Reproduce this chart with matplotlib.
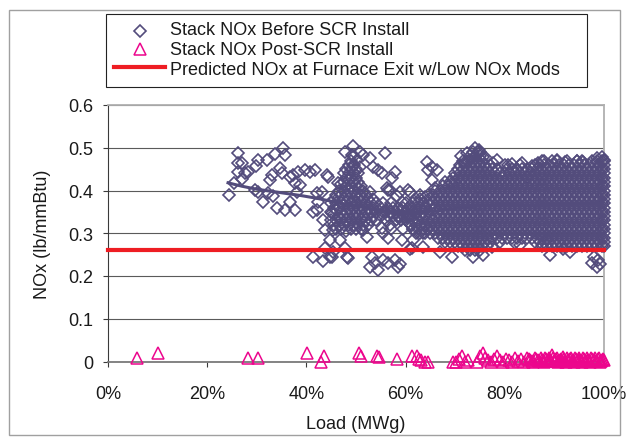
import matplotlib
matplotlib.use("Agg")
import matplotlib.pyplot as plt
from matplotlib.lines import Line2D
from matplotlib.patches import Rectangle
from matplotlib.ticker import MultipleLocator, PercentFormatter, FuncFormatter

# --- stack NOx before SCR: scattered readings (load %, lb/mmBtu) ---
sparse_load = [
    24.4, 25.4, 26.2, 26.2, 27.0, 26.2, 27.6, 28.2, 27.0, 30.2,
    29.8, 32.1, 33.7, 35.3, 35.7, 34.7, 33.1, 32.7, 35.1, 36.7,
    37.3, 38.3, 39.7, 37.7, 38.7, 29.6, 30.2, 31.3, 33.3, 34.1,
    35.7, 36.7, 38.1, 37.7, 41.3, 32.3, 40.7, 41.7, 44.4, 42.1,
    43.1, 42.3, 42.1, 43.3, 45.2, 45.4, 44.8, 46.8, 41.3, 43.3,
    45.2, 48.2, 46.4, 47.8, 49.4, 50.8, 49.2, 51.4, 50.2, 52.8,
    55.8, 49.4, 50.8, 53.4, 55.2, 57.9, 44.2, 56.5, 60.5, 62.9,
    64.3, 64.5, 65.3, 66.3, 65.3, 65.9, 60.9, 58.9, 69.4, 72.0,
    54.4, 57.2, 56.2, 52.8, 43.8, 51.4, 52.2, 55.2, 56.9, 58.5,
    59.3, 61.5, 63.5, 64.5, 43.8, 45.4, 47.8, 48.4, 44.8, 53.2,
    53.8, 52.8, 54.4, 55.4, 56.5, 58.9, 60.9, 63.5, 57.9, 58.5,
    61.3, 67.0, 69.4, 73.6, 75.6, 77.4, 82.0, 83.0, 88.5, 89.1,
    91.7, 93.1, 97.6, 98.6, 98.8, 97.9, 74.0, 72.4, 73.0, 75.6,
    77.6, 80.6, 83.5, 86.7, 84.5, 92.1, 95.8, 98.6, 99.6, 75.0,
    76.2, 71.2, 74.8, 78.4, 81.5, 85.5, 88.0, 90.6, 94.5, 100.0,
    56.9, 58.3, 59.3, 59.9, 58.9, 60.3, 60.9, 59.5, 61.5, 99.2,
]
sparse_nox = [
    0.390, 0.418, 0.488, 0.465, 0.465, 0.444, 0.441, 0.444, 0.428, 0.472,
    0.458, 0.472, 0.486, 0.500, 0.484, 0.453, 0.437, 0.425, 0.441, 0.432,
    0.437, 0.444, 0.449, 0.418, 0.414, 0.402, 0.397, 0.374, 0.386, 0.360,
    0.355, 0.374, 0.397, 0.355, 0.350, 0.395, 0.444, 0.449, 0.432, 0.395,
    0.397, 0.374, 0.355, 0.332, 0.348, 0.308, 0.285, 0.285, 0.245, 0.234,
    0.245, 0.245, 0.418, 0.491, 0.503, 0.491, 0.484, 0.484, 0.472, 0.477,
    0.488, 0.460, 0.456, 0.456, 0.441, 0.444, 0.437, 0.402, 0.402, 0.390,
    0.467, 0.449, 0.456, 0.449, 0.425, 0.407, 0.397, 0.397, 0.418, 0.467,
    0.449, 0.430, 0.407, 0.397, 0.308, 0.308, 0.292, 0.313, 0.320, 0.339,
    0.285, 0.285, 0.300, 0.310, 0.266, 0.255, 0.266, 0.243, 0.245, 0.245,
    0.231, 0.220, 0.215, 0.238, 0.231, 0.227, 0.262, 0.269, 0.238, 0.222,
    0.266, 0.257, 0.245, 0.245, 0.250, 0.269, 0.278, 0.273, 0.285, 0.250,
    0.262, 0.255, 0.231, 0.222, 0.238, 0.245, 0.500, 0.488, 0.472, 0.479,
    0.465, 0.460, 0.465, 0.465, 0.432, 0.467, 0.467, 0.477, 0.479, 0.490,
    0.475, 0.480, 0.495, 0.472, 0.462, 0.458, 0.470, 0.472, 0.470, 0.472,
    0.402, 0.386, 0.374, 0.350, 0.339, 0.337, 0.321, 0.310, 0.310, 0.228,
]

# --- stack NOx before SCR: dense operating bands, readings grouped by load ---
band_load_mid = [45.0, 45.5, 46.0, 46.5, 47.0, 47.5, 48.0, 48.5, 49.0, 49.5,
                 50.0, 50.5, 51.0, 51.5, 52.0, 52.5, 53.0, 53.5, 54.0, 55.0,
                 55.5, 56.0, 56.5, 57.0, 57.5, 58.0, 58.5, 59.0, 59.5, 60.0,
                 60.5]
band_nox_mid = [
    [0.33, 0.35, 0.37],
    [0.32, 0.345, 0.36, 0.38],
    [0.31, 0.33, 0.355, 0.37, 0.39],
    [0.32, 0.34, 0.36, 0.385, 0.40],
    [0.31, 0.33, 0.35, 0.37, 0.39, 0.415],
    [0.32, 0.34, 0.365, 0.38, 0.40, 0.42, 0.44],
    [0.305, 0.33, 0.35, 0.37, 0.39, 0.41, 0.43, 0.45],
    [0.32, 0.34, 0.36, 0.38, 0.40, 0.425, 0.44, 0.46],
    [0.31, 0.33, 0.35, 0.37, 0.395, 0.41, 0.43, 0.45, 0.47],
    [0.32, 0.34, 0.36, 0.38, 0.40, 0.42, 0.44, 0.46, 0.48],
    [0.31, 0.335, 0.35, 0.37, 0.39, 0.41, 0.43, 0.45],
    [0.32, 0.34, 0.36, 0.38, 0.405, 0.42, 0.44],
    [0.31, 0.33, 0.35, 0.375, 0.39, 0.41],
    [0.32, 0.34, 0.36, 0.38, 0.40],
    [0.33, 0.35, 0.37, 0.39],
    [0.32, 0.345, 0.36, 0.38],
    [0.33, 0.35, 0.37],
    [0.34, 0.36, 0.38],
    [0.33, 0.35, 0.37],
    [0.34, 0.36],
    [0.30, 0.35, 0.37],
    [0.33, 0.35],
    [0.29, 0.34, 0.36],
    [0.31, 0.35, 0.37],
    [0.34, 0.36],
    [0.33, 0.35],
    [0.34, 0.36],
    [0.33, 0.355],
    [0.34, 0.36],
    [0.33, 0.35, 0.37],
    [0.34, 0.36],
]

band_load_upper = [61.0, 61.5, 62.0, 62.5, 63.0, 63.5, 64.0, 64.5, 65.0, 65.5,
                   66.0, 66.5, 67.0, 67.5, 68.0, 68.5, 69.0, 69.5, 70.0, 70.5,
                   71.0, 71.5, 72.0, 72.5, 73.0, 73.5, 74.0, 74.5, 75.0, 75.5,
                   76.0, 76.5, 77.0]
band_nox_upper = [
    [0.32, 0.34, 0.36],
    [0.31, 0.33, 0.35, 0.37],
    [0.30, 0.32, 0.345, 0.36, 0.38],
    [0.31, 0.33, 0.35, 0.37],
    [0.30, 0.32, 0.34, 0.36, 0.38],
    [0.31, 0.335, 0.35, 0.37],
    [0.30, 0.32, 0.34, 0.36, 0.385],
    [0.31, 0.33, 0.35, 0.37, 0.39],
    [0.30, 0.32, 0.34, 0.365, 0.38],
    [0.31, 0.33, 0.355, 0.37, 0.39],
    [0.30, 0.32, 0.34, 0.36, 0.38, 0.40],
    [0.29, 0.31, 0.33, 0.35, 0.37, 0.39],
    [0.30, 0.32, 0.34, 0.36, 0.38, 0.40],
    [0.29, 0.31, 0.33, 0.35, 0.37, 0.39, 0.41],
    [0.28, 0.30, 0.32, 0.34, 0.36, 0.38, 0.40, 0.42],
    [0.29, 0.31, 0.33, 0.35, 0.37, 0.39, 0.41],
    [0.28, 0.30, 0.32, 0.34, 0.36, 0.38, 0.40, 0.42],
    [0.29, 0.31, 0.33, 0.35, 0.37, 0.39, 0.41, 0.43],
    [0.28, 0.30, 0.32, 0.34, 0.36, 0.38, 0.40, 0.42, 0.44],
    [0.27, 0.29, 0.31, 0.33, 0.35, 0.37, 0.39, 0.41, 0.43, 0.45],
    [0.28, 0.30, 0.32, 0.34, 0.36, 0.38, 0.40, 0.42, 0.44, 0.46],
    [0.27, 0.29, 0.31, 0.33, 0.35, 0.37, 0.39, 0.41, 0.43, 0.45, 0.47],
    [0.26, 0.28, 0.30, 0.32, 0.34, 0.36, 0.38, 0.40, 0.42, 0.44, 0.46],
    [0.27, 0.29, 0.31, 0.33, 0.35, 0.37, 0.39, 0.41, 0.43, 0.45, 0.47],
    [0.26, 0.28, 0.30, 0.32, 0.34, 0.36, 0.38, 0.40, 0.42, 0.44, 0.46, 0.48],
    [0.27, 0.29, 0.31, 0.33, 0.35, 0.37, 0.39, 0.41, 0.43, 0.45, 0.47, 0.49],
    [0.26, 0.28, 0.30, 0.32, 0.34, 0.36, 0.38, 0.40, 0.42, 0.44, 0.46, 0.48],
    [0.27, 0.29, 0.31, 0.33, 0.35, 0.37, 0.39, 0.41, 0.43, 0.45, 0.47, 0.49],
    [0.26, 0.28, 0.30, 0.32, 0.34, 0.36, 0.38, 0.40, 0.42, 0.44, 0.46, 0.48],
    [0.27, 0.29, 0.31, 0.33, 0.35, 0.37, 0.39, 0.41, 0.43, 0.45, 0.47],
    [0.28, 0.30, 0.32, 0.34, 0.36, 0.38, 0.40, 0.42, 0.44, 0.46],
    [0.27, 0.29, 0.31, 0.33, 0.35, 0.37, 0.39, 0.41, 0.43, 0.45],
    [0.28, 0.30, 0.32, 0.34, 0.36, 0.38, 0.40, 0.42, 0.44, 0.46],
]

band_load_full = [77.5, 78.0, 78.5, 79.0, 79.5, 80.0, 80.5, 81.0, 81.5, 82.0,
                  82.5, 83.0, 83.5, 84.0, 84.5, 85.0, 85.5, 86.0, 86.5, 87.0,
                  87.5, 88.0, 88.5, 89.0, 89.5, 90.0, 90.5, 91.0, 91.5, 92.0,
                  92.5, 93.0, 93.5, 94.0, 94.5, 95.0, 95.5, 96.0, 96.5, 97.0,
                  97.5, 98.0, 98.5, 99.0, 99.5, 100.0]
band_nox_full = [
    [0.29, 0.31, 0.33, 0.35, 0.37, 0.39, 0.41, 0.43, 0.45],
    [0.30, 0.32, 0.34, 0.36, 0.38, 0.40, 0.42, 0.44],
    [0.29, 0.31, 0.33, 0.35, 0.37, 0.39, 0.41, 0.43, 0.45],
    [0.28, 0.30, 0.32, 0.34, 0.36, 0.38, 0.40, 0.42, 0.44],
    [0.29, 0.31, 0.33, 0.35, 0.37, 0.39, 0.41, 0.43],
    [0.30, 0.32, 0.34, 0.36, 0.38, 0.40, 0.42, 0.44, 0.46],
    [0.29, 0.31, 0.33, 0.35, 0.37, 0.39, 0.41, 0.43, 0.45],
    [0.30, 0.32, 0.34, 0.36, 0.38, 0.40, 0.42, 0.44],
    [0.29, 0.31, 0.33, 0.35, 0.37, 0.39, 0.41, 0.43, 0.45],
    [0.30, 0.32, 0.34, 0.36, 0.38, 0.40, 0.42, 0.44],
    [0.29, 0.31, 0.33, 0.35, 0.37, 0.39, 0.41, 0.43, 0.45],
    [0.30, 0.32, 0.34, 0.36, 0.38, 0.40, 0.42, 0.44, 0.46],
    [0.29, 0.31, 0.33, 0.35, 0.37, 0.39, 0.41, 0.43, 0.45],
    [0.30, 0.32, 0.34, 0.36, 0.38, 0.40, 0.42, 0.44],
    [0.29, 0.31, 0.33, 0.35, 0.37, 0.39, 0.41, 0.43, 0.45],
    [0.30, 0.32, 0.34, 0.36, 0.38, 0.40, 0.42, 0.44],
    [0.29, 0.31, 0.33, 0.35, 0.37, 0.39, 0.41, 0.43, 0.45],
    [0.28, 0.30, 0.32, 0.34, 0.36, 0.38, 0.40, 0.42, 0.44, 0.46],
    [0.29, 0.31, 0.33, 0.35, 0.37, 0.39, 0.41, 0.43, 0.45],
    [0.28, 0.30, 0.32, 0.34, 0.36, 0.38, 0.40, 0.42, 0.44, 0.46],
    [0.27, 0.29, 0.31, 0.33, 0.35, 0.37, 0.39, 0.41, 0.43, 0.45, 0.47],
    [0.28, 0.30, 0.32, 0.34, 0.36, 0.38, 0.40, 0.42, 0.44, 0.46],
    [0.27, 0.29, 0.31, 0.33, 0.35, 0.37, 0.39, 0.41, 0.43, 0.45],
    [0.28, 0.30, 0.32, 0.34, 0.36, 0.38, 0.40, 0.42, 0.44, 0.46],
    [0.27, 0.29, 0.31, 0.33, 0.35, 0.37, 0.39, 0.41, 0.43, 0.45, 0.47],
    [0.28, 0.30, 0.32, 0.34, 0.36, 0.38, 0.40, 0.42, 0.44, 0.46],
    [0.27, 0.29, 0.31, 0.33, 0.35, 0.37, 0.39, 0.41, 0.43, 0.45, 0.47],
    [0.28, 0.30, 0.32, 0.34, 0.36, 0.38, 0.40, 0.42, 0.44, 0.46],
    [0.27, 0.29, 0.31, 0.33, 0.35, 0.37, 0.39, 0.41, 0.43, 0.45],
    [0.28, 0.30, 0.32, 0.34, 0.36, 0.38, 0.40, 0.42, 0.44, 0.46],
    [0.27, 0.29, 0.31, 0.33, 0.35, 0.37, 0.39, 0.41, 0.43, 0.45, 0.47],
    [0.28, 0.30, 0.32, 0.34, 0.36, 0.38, 0.40, 0.42, 0.44, 0.46],
    [0.27, 0.29, 0.31, 0.33, 0.35, 0.37, 0.39, 0.41, 0.43, 0.45],
    [0.28, 0.30, 0.32, 0.34, 0.36, 0.38, 0.40, 0.42, 0.44, 0.46],
    [0.27, 0.29, 0.31, 0.33, 0.35, 0.37, 0.39, 0.41, 0.43, 0.45, 0.47],
    [0.28, 0.30, 0.32, 0.34, 0.36, 0.38, 0.40, 0.42, 0.44, 0.46],
    [0.27, 0.29, 0.31, 0.33, 0.35, 0.37, 0.39, 0.41, 0.43, 0.45, 0.47],
    [0.28, 0.30, 0.32, 0.34, 0.36, 0.38, 0.40, 0.42, 0.44, 0.46],
    [0.27, 0.29, 0.31, 0.33, 0.35, 0.37, 0.39, 0.41, 0.43, 0.45],
    [0.28, 0.30, 0.32, 0.34, 0.36, 0.38, 0.40, 0.42, 0.44, 0.46],
    [0.27, 0.29, 0.31, 0.33, 0.35, 0.37, 0.39, 0.41, 0.43, 0.45, 0.47],
    [0.28, 0.30, 0.32, 0.34, 0.36, 0.38, 0.40, 0.42, 0.44, 0.46],
    [0.27, 0.29, 0.31, 0.33, 0.35, 0.37, 0.39, 0.41, 0.43, 0.45, 0.47],
    [0.28, 0.30, 0.32, 0.34, 0.36, 0.38, 0.40, 0.42, 0.44, 0.46],
    [0.27, 0.29, 0.31, 0.33, 0.35, 0.37, 0.39, 0.41, 0.43, 0.45, 0.47],
    [0.27, 0.28, 0.29, 0.30, 0.31, 0.32, 0.33, 0.34, 0.35, 0.36, 0.37,
     0.38, 0.39, 0.40, 0.41, 0.42, 0.43, 0.44, 0.45, 0.46, 0.47],
]

# moving-average trend of the pre-SCR readings
trend_load = [24.2, 27.0, 30.0, 33.0, 36.0, 39.0, 42.0, 45.0, 48.0, 51.0, 54.0,
              57.0, 60.0, 63.0, 66.0, 70.0, 75.0, 80.0, 85.0, 90.0, 95.0, 100.0]
trend_nox = [0.418, 0.410, 0.403, 0.398, 0.393, 0.388, 0.382, 0.375, 0.368, 0.362,
             0.355, 0.350, 0.349, 0.350, 0.352, 0.358, 0.365, 0.368, 0.366, 0.368,
             0.370, 0.372]

# --- stack NOx after SCR ---
post_load = [
    5.8, 10.1, 28.2, 30.2, 40.1, 43.5, 43.0, 50.6, 51.0, 54.3,
    54.6, 58.2, 61.2, 62.2, 62.7, 63.2, 63.9, 64.5,
    69.6, 70.2, 70.8, 71.4, 71.9, 72.5,
    74.4, 75.0, 75.6, 76.1, 76.7, 77.3, 77.9, 78.5, 79.1, 79.7,
    80.3, 80.9, 81.5, 82.1, 82.7, 83.3, 83.9, 84.5, 85.1, 85.7,
    86.3, 86.9, 87.5,
    88.0, 88.4, 88.8, 89.2, 89.6, 90.0, 90.4, 90.8, 91.2, 91.6,
    92.0, 92.4, 92.8, 93.2, 93.6, 94.0, 94.4, 94.8, 95.2, 95.6,
    96.0, 96.4, 96.8, 97.2, 97.6, 98.0, 98.4, 98.8, 99.2, 99.6,
    100.0,
    84.8, 85.4, 86.0, 86.6, 87.2, 87.8, 88.2, 88.6, 89.0, 89.4,
    89.8, 90.2, 90.6, 91.0, 91.4, 91.8, 92.2, 92.6, 93.0, 93.4,
    93.8, 94.2, 94.6, 95.0, 95.4, 95.8, 96.2, 96.6, 97.0, 97.4,
    97.8, 98.2, 98.6, 99.0, 99.4, 99.8,
]
post_nox = [
    0.008, 0.021, 0.009, 0.009, 0.021, 0.012, 0.0, 0.019, 0.012, 0.014,
    0.010, 0.007, 0.012, 0.014, 0.007, 0.003, 0.0, 0.0,
    0.0, 0.0, 0.005, 0.012, 0.0, 0.003,
    0.0, 0.012, 0.019, 0.009, 0.004, 0.0, 0.006, 0.012, 0.004, 0.0,
    0.006, 0.003, 0.0, 0.008, 0.002, 0.005, 0.0, 0.009, 0.003, 0.0,
    0.006, 0.002, 0.004,
    0.0, 0.006, 0.003, 0.004, 0.016, 0.002, 0.005, 0.0, 0.004, 0.002,
    0.006, 0.0, 0.003, 0.005, 0.002, 0.0, 0.006, 0.003, 0.004, 0.0,
    0.005, 0.002, 0.004, 0.0, 0.006, 0.003, 0.002, 0.005, 0.0, 0.004,
    0.003,
    0.007, 0.002, 0.008, 0.003, 0.009, 0.001, 0.008, 0.002, 0.009, 0.001,
    0.008, 0.003, 0.009, 0.001, 0.007, 0.010, 0.002, 0.008, 0.001, 0.009,
    0.003, 0.008, 0.001, 0.009, 0.002, 0.008, 0.001, 0.009, 0.002, 0.008,
    0.001, 0.009, 0.002, 0.008, 0.001, 0.007,
]

furnace_nox = 0.26  # predicted NOx at furnace exit with low-NOx mods

PURPLE = "#534C7C"
MAGENTA = "#EC068D"
RED = "#EE1D23"
TEXT = "#1A1A1A"
DIAMOND_MS = 6.2
TRIANGLE_MS = 9.0

plt.rcParams["font.family"] = ["Liberation Sans", "DejaVu Sans"]
plt.rcParams["font.size"] = 13

W, H = 627, 439
fig = plt.figure(figsize=(W / 100, H / 100), dpi=100)


def fx(x):
    return x / W


def fy(y):
    return 1 - y / H


# outer chart border
fig.patches.append(Rectangle((fx(9), fy(436)), fx(611), 425 / H, transform=fig.transFigure,
                             fill=False, edgecolor="#A0A0A0", lw=1.0))

ax = fig.add_axes([fx(108), fy(362.5), 496 / W, 256.5 / H])

# flatten the grouped bands
before_load = list(sparse_load)
before_nox = list(sparse_nox)
for loads, groups in ((band_load_mid, band_nox_mid),
                      (band_load_upper, band_nox_upper),
                      (band_load_full, band_nox_full)):
    for load, vals in zip(loads, groups):
        before_load.extend([load] * len(vals))
        before_nox.extend(vals)

ax.plot(post_load, post_nox, linestyle="none", marker="^", ms=TRIANGLE_MS, mfc="none",
        mec=MAGENTA, mew=1.1, clip_on=False, zorder=3)
ax.plot(before_load, before_nox, linestyle="none", marker="D", ms=DIAMOND_MS, mfc="none",
        mec=PURPLE, mew=1.2, clip_on=False, zorder=3)
ax.plot(trend_load, trend_nox, color=PURPLE, lw=2.2, zorder=4)
ax.axhline(furnace_nox, color=RED, lw=3.0, zorder=5, clip_on=False)

ax.set_xlim(0, 100)
ax.set_ylim(0, 0.6)
ax.xaxis.set_major_locator(MultipleLocator(20))
ax.xaxis.set_major_formatter(PercentFormatter(100, decimals=0))
ax.yaxis.set_major_locator(MultipleLocator(0.1))
ax.yaxis.set_major_formatter(FuncFormatter(lambda v, pos: "0" if abs(v) < 1e-9 else f"{v:.1f}"))

ax.yaxis.grid(True, color="#5A5A5A", lw=0.8)
ax.set_axisbelow(True)

ax.spines["left"].set_color("#3A3A3A")
ax.spines["left"].set_linewidth(0.8)
ax.spines["bottom"].set_color("#7A7A7A")
ax.spines["bottom"].set_linewidth(1.3)
for side in ("top", "right"):
    ax.spines[side].set_color("#B0B0B0")
    ax.spines[side].set_linewidth(1.3)

ax.tick_params(axis="x", direction="out", length=3.6, width=0.8, color="#3A3A3A",
               labelcolor=TEXT, pad=13)
ax.tick_params(axis="y", direction="out", length=3.6, width=0.8, color="#3A3A3A",
               labelcolor=TEXT, pad=7)

ax.set_xlabel("Load (MWg)", color=TEXT)
ax.xaxis.set_label_coords(0.5, -0.21)
ax.set_ylabel("NOx (lb/mmBtu)", color=TEXT)
ax.yaxis.set_label_coords(-0.115, 0.5)

# legend box
fig.patches.append(Rectangle((fx(106), fy(88)), 481 / W, 73 / H, transform=fig.transFigure,
                             facecolor="white", edgecolor="#222222", lw=0.8))
fig.lines.append(Line2D([fx(140)], [fy(32)], transform=fig.transFigure, linestyle="none",
                        marker="D", ms=DIAMOND_MS, mfc="none", mec=PURPLE, mew=1.2))
fig.lines.append(Line2D([fx(140)], [fy(50)], transform=fig.transFigure, linestyle="none",
                        marker="^", ms=TRIANGLE_MS, mfc="none", mec=MAGENTA, mew=1.1))
fig.lines.append(Line2D([fx(114), fx(165)], [fy(68), fy(68)], transform=fig.transFigure,
                        color=RED, lw=3.0))
legend_labels = ["Stack NOx Before SCR Install", "Stack NOx Post-SCR Install",
                 "Predicted NOx at Furnace Exit w/Low NOx Mods"]
for label, base in zip(legend_labels, (35, 55, 75)):
    fig.text(fx(170), fy(base), label, va="baseline", ha="left", color=TEXT)

fig.savefig("out.png", dpi=100)
